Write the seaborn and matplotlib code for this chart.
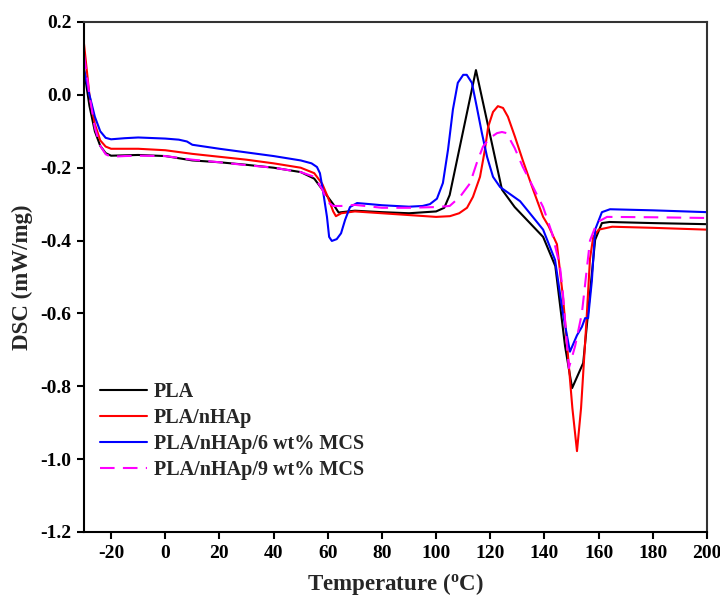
import numpy as np
import pandas as pd
import matplotlib
matplotlib.use("Agg")
import matplotlib.pyplot as plt
import seaborn as sns

# ---- data ----
pla_T = [-30, -28, -26, -24, -22, -20, -10, 0, 10, 20, 30, 40, 50, 55, 58, 62, 64,
         70, 80, 90, 100, 103, 105, 114.7, 124.3, 129, 139.5, 144, 147.6, 150.2,
         154.3, 158.7, 161.2, 164, 180, 200]
pla_Y = [0.07, -0.03, -0.10, -0.14, -0.16, -0.167, -0.165, -0.168, -0.18, -0.185,
         -0.192, -0.20, -0.212, -0.23, -0.26, -0.30, -0.323,
         -0.318, -0.322, -0.325, -0.32, -0.31, -0.275, 0.068, -0.26, -0.308, -0.39,
         -0.47, -0.69, -0.805, -0.736, -0.398, -0.352, -0.349, -0.352, -0.355]

nhap_T = [-30, -28, -26, -24, -22, -20, -10, 0, 10, 20, 30, 40, 50, 55, 58, 60, 62,
          63, 65, 70, 80, 90, 100, 105.1, 108.5, 111.4, 113.6, 116.2, 118, 119.2,
          121, 122.8, 124.7, 126.5, 129.1, 132, 135.8, 139.5, 141.5, 144.6, 146.9,
          148.5, 150.3, 152, 153.5, 155.5, 156.8, 158, 160, 165, 180, 200]
nhap_Y = [0.14, 0.0, -0.08, -0.125, -0.142, -0.148, -0.148, -0.152, -0.162, -0.17,
          -0.178, -0.188, -0.20, -0.215, -0.245, -0.28, -0.32,
          -0.333, -0.325, -0.32, -0.325, -0.33, -0.335, -0.333, -0.325, -0.31,
          -0.28, -0.225, -0.151, -0.088, -0.047, -0.031, -0.036, -0.06, -0.115,
          -0.18, -0.26, -0.335, -0.36, -0.41, -0.56, -0.70, -0.86, -0.978, -0.86,
          -0.62, -0.45, -0.39, -0.37, -0.362, -0.365, -0.37]

mcs6_T = [-30, -28, -26, -24, -22, -20, -15, -10, 0, 5, 8, 10, 20, 30, 40, 50, 54,
          56, 57.1, 58.2, 59.7, 60.5, 61.5, 63.3, 64.9, 66.4, 68.2, 70.8, 75.6, 80,
          90, 95, 97.7, 100.3, 102.5, 104.4, 106.2, 108, 110, 111.3, 113.2, 115,
          116.9, 118.8, 121, 123.6, 131, 139.5, 143.9, 146.8, 149.4, 152, 153.8,
          155, 156.1, 157.5, 158.7, 161.2, 164.2, 180, 200]
mcs6_Y = [0.07, 0.0, -0.06, -0.10, -0.118, -0.122, -0.119, -0.117, -0.12, -0.123,
          -0.128, -0.137, -0.148, -0.158, -0.168, -0.18, -0.188,
          -0.198, -0.215, -0.262, -0.335, -0.39, -0.401, -0.396, -0.38, -0.343,
          -0.308, -0.297, -0.30, -0.303, -0.307, -0.305, -0.30, -0.285, -0.242,
          -0.15, -0.04, 0.033, 0.055, 0.055, 0.033, -0.033, -0.105, -0.17, -0.225,
          -0.253, -0.292, -0.37, -0.453, -0.60, -0.705, -0.66, -0.637, -0.613,
          -0.613, -0.51, -0.37, -0.322, -0.314, -0.317, -0.322]

mcs9_T = [-30, -28, -26, -24, -22, -20, -15, -10, 0, 10, 20, 30, 40, 50, 55, 58, 60,
          62, 65, 70, 80, 90, 100, 105, 108.8, 112.5, 115, 117.3, 119.9, 122.5,
          124.3, 126, 129, 132, 135.8, 139.5, 142.8, 145.7, 146.8, 149, 151.3,
          153.8, 156.8, 159.4, 163.1, 180, 200]
mcs9_Y = [0.11, 0.0, -0.09, -0.14, -0.163, -0.17, -0.168, -0.167, -0.168, -0.178,
          -0.185, -0.193, -0.20, -0.212, -0.225, -0.26, -0.295,
          -0.305, -0.305, -0.302, -0.31, -0.31, -0.308, -0.305, -0.28, -0.243,
          -0.187, -0.142, -0.118, -0.105, -0.102, -0.105, -0.146, -0.198, -0.253,
          -0.308, -0.38, -0.47, -0.545, -0.75, -0.69, -0.60, -0.40, -0.35, -0.335,
          -0.336, -0.338]

labels = ["PLA", "PLA/nHAp", "PLA/nHAp/6 wt% MCS", "PLA/nHAp/9 wt% MCS"]
colors = ["#000000", "#ff0000", "#0000ff", "#ff00ff"]

frames = []
for lab, T, Y in zip(labels, [pla_T, nhap_T, mcs6_T, mcs9_T],
                     [pla_Y, nhap_Y, mcs6_Y, mcs9_Y]):
    frames.append(pd.DataFrame({"T": T, "DSC": Y, "sample": lab}))
df = pd.concat(frames, ignore_index=True)

sns.set_theme(style="ticks")
plt.rcParams["font.family"] = ["Liberation Serif", "DejaVu Serif"]
plt.rcParams["font.weight"] = "bold"
plt.rcParams["mathtext.fontset"] = "custom"
plt.rcParams["mathtext.rm"] = "Liberation Serif:bold"
plt.rcParams["mathtext.it"] = "Liberation Serif:bold"
plt.rcParams["mathtext.bf"] = "Liberation Serif:bold"

fig = plt.figure(figsize=(7.2, 5.98), dpi=100)
ax = fig.add_axes([84/720, 1-532/598, (707-84)/720, (532-22)/598])

sns.lineplot(data=df, x="T", y="DSC", hue="sample", style="sample",
             hue_order=labels, style_order=labels,
             palette=colors,
             dashes=["", "", "", (7, 4)],
             sort=False, estimator=None, linewidth=1.5, ax=ax, legend=True)
for ln in ax.get_lines():
    ln.set_solid_joinstyle("round")

ax.set_xlim(-30, 200)
ax.set_ylim(-1.2, 0.2)
ax.set_xticks([-20, 0, 20, 40, 60, 80, 100, 120, 140, 160, 180, 200])
ax.set_yticks([0.2, 0.0, -0.2, -0.4, -0.6, -0.8, -1.0, -1.2])
ax.set_yticklabels(["0.2", "0.0", "-0.2", "-0.4", "-0.6", "-0.8", "-1.0", "-1.2"])
ax.set_xticklabels(["-20", "0", "20", "40", "60", "80", "100", "120", "140",
                    "160", "180", "200"])
ax.tick_params(axis="both", direction="out", length=5, width=1.5,
               labelsize=14, colors="black", pad=4)
for lbl in ax.get_xticklabels() + ax.get_yticklabels():
    lbl.set_fontweight("bold")
for s in ax.spines.values():
    s.set_visible(True)
    s.set_color("black")
    s.set_linewidth(1.5)
ax.spines["top"].set_color("#333333")
ax.spines["right"].set_color("#333333")

ax.set_xlabel(r"Temperature ($^{\rm o}$C)", fontsize=16.5, fontweight="bold", labelpad=7)
ax.set_ylabel("DSC (mW/mg)", fontsize=16.5, fontweight="bold", labelpad=5)

handles, _ = ax.get_legend_handles_labels()
leg = ax.legend(handles=handles, labels=labels, loc="upper left",
                bbox_to_anchor=(0.013, 0.31), frameon=False, fontsize=14.5,
                handlelength=2.35, handletextpad=0.3, labelspacing=0.3,
                borderaxespad=0.0)
for t in leg.get_texts():
    t.set_fontweight("bold")
for l in leg.get_lines():
    l.set_linewidth(1.5)

fig.savefig("out.png", dpi=100)
